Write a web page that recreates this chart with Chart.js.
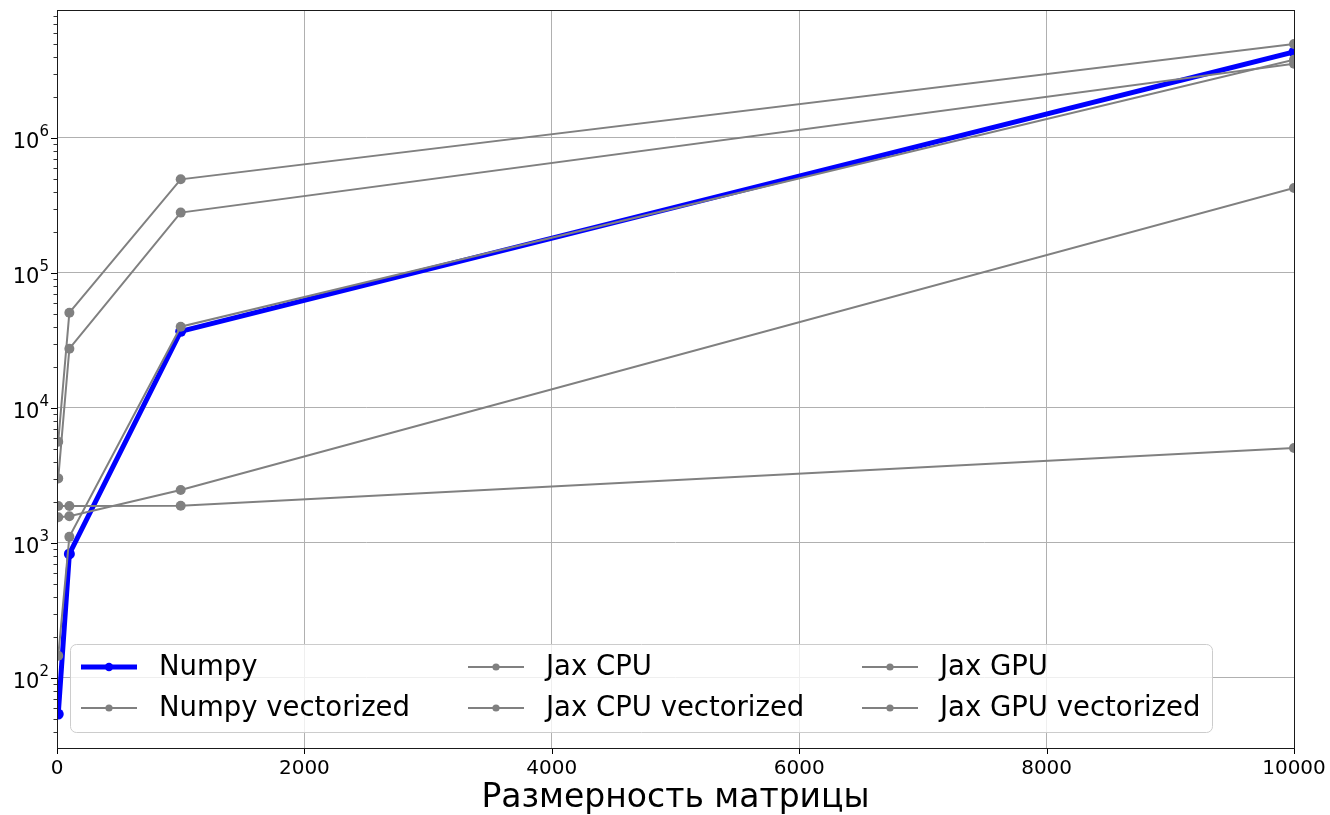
<!DOCTYPE html>
<html>
<head>
<meta charset="utf-8">
<script src="https://cdn.jsdelivr.net/npm/chart.js@4.4.1/dist/chart.umd.min.js"></script>
<style>
  html, body { margin: 0; padding: 0; background: #ffffff; }
  #wrap { width: 1330px; height: 815px; }
</style>
</head>
<body>
<div id="wrap"><canvas id="c" width="1330" height="815"></canvas></div>
<script>
// Matrix sizes and timings per implementation
const sizes = [10, 100, 1000, 10000];
const numpyTimes            = [54, 830, 37000, 4330000];
const numpyVectorizedTimes  = [146, 1110, 40000, 3800000];
const jaxCpuTimes           = [5630, 50800, 494000, 4970000];
const jaxCpuVectorizedTimes = [3010, 27500, 280000, 3550000];
const jaxGpuTimes           = [1550, 1580, 2470, 426000];
const jaxGpuVectorizedTimes = [1880, 1880, 1890, 5060];

const seriesNames = ['Numpy', 'Numpy vectorized', 'Jax CPU', 'Jax CPU vectorized', 'Jax GPU', 'Jax GPU vectorized'];
const seriesValues = [numpyTimes, numpyVectorizedTimes, jaxCpuTimes, jaxCpuVectorizedTimes, jaxGpuTimes, jaxGpuVectorizedTimes];

const xTicks = [0, 2000, 4000, 6000, 8000, 10000];
const xRange = [0, 10000];
const yRange = [30.3, 8.87e6];
const xTitle = 'Размерность матрицы';

const FONT = 'DejaVu Sans';
Chart.defaults.font.family = FONT;

const isPow10 = v => v > 0 && Math.abs(Math.log10(v) - Math.round(Math.log10(v))) < 1e-9;
const isMinorLog = v => {
  if (!(v > 0)) return false;
  const s = v / Math.pow(10, Math.floor(Math.log10(v) + 1e-12));
  return Math.abs(s - Math.round(s)) < 1e-6 && Math.round(s) > 1;
};

const styleFor = i => i === 0
  ? { color: '#0000ff', width: 5, radius: 5.5, legendRadius: 4.2 }
  : { color: '#808080', width: 2, radius: 5, legendRadius: 3.6 };

const datasets = seriesNames.map((name, i) => {
  const st = styleFor(i);
  return {
    label: name,
    data: sizes.map((x, k) => ({ x: x, y: seriesValues[i][k] })),
    borderColor: st.color,
    backgroundColor: st.color,
    borderWidth: st.width,
    pointRadius: st.radius,
    pointBackgroundColor: st.color,
    pointBorderWidth: 0,
    tension: 0,
    clip: 0,
    // first series sits underneath the later ones
    order: seriesNames.length - i
  };
});

const noScalePadding = s => { s.paddingTop = 0; s.paddingBottom = 0; s.paddingLeft = 0; s.paddingRight = 0; };

// Frame, outward tick marks, power-of-ten labels and a three-column legend
const axesDecor = {
  id: 'axesDecor',
  afterDraw(chart) {
    const { ctx, chartArea: a } = chart;
    const xs = chart.scales.x, ys = chart.scales.y;
    ctx.save();

    // tick marks
    ctx.strokeStyle = '#000000';
    ctx.lineWidth = 1;
    xs.ticks.forEach(t => {
      const px = Math.round(xs.getPixelForValue(t.value)) + 0.5;
      ctx.beginPath(); ctx.moveTo(px, a.bottom); ctx.lineTo(px, a.bottom + 6); ctx.stroke();
    });
    ys.ticks.forEach(t => {
      const major = isPow10(t.value);
      if (!major && !isMinorLog(t.value)) return;
      const py = Math.round(ys.getPixelForValue(t.value)) + 0.5;
      ctx.lineWidth = major ? 1 : 0.8;
      ctx.beginPath(); ctx.moveTo(a.left, py); ctx.lineTo(a.left - (major ? 6 : 3.5), py); ctx.stroke();
    });

    // y labels as 10 with a raised exponent
    ctx.fillStyle = '#000000';
    ctx.textBaseline = 'alphabetic';
    ys.ticks.forEach(t => {
      if (!isPow10(t.value)) return;
      const py = ys.getPixelForValue(t.value);
      const exp = String(Math.round(Math.log10(t.value)));
      ctx.font = '15px "' + FONT + '"';
      const ew = ctx.measureText(exp).width;
      const right = a.left - 8;
      ctx.textAlign = 'right';
      ctx.fillText(exp, right, py - 2);
      ctx.font = '21px "' + FONT + '"';
      ctx.fillText('10', right - ew, py + 10);
    });

    // spines
    ctx.lineWidth = 1;
    ctx.strokeStyle = '#1a1a1a';
    ctx.strokeRect(Math.round(a.left) + 0.5, Math.round(a.top) + 0.5,
                   Math.round(a.right - a.left), Math.round(a.bottom - a.top));

    // legend
    const box = { x: 70.5, y: 644.5, w: 1142, h: 88 };
    ctx.beginPath();
    ctx.roundRect(box.x, box.y, box.w, box.h, 6);
    ctx.fillStyle = 'rgba(255,255,255,0.8)';
    ctx.fill();
    ctx.strokeStyle = '#cccccc';
    ctx.lineWidth = 1;
    ctx.stroke();

    const colX = [81, 468, 862];
    const rowY = [667, 708];
    const handleLen = 56;
    const textGap = 22;
    ctx.font = '27.5px "' + FONT + '"';
    ctx.textBaseline = 'middle';
    ctx.textAlign = 'left';
    chart.data.datasets.forEach((ds, i) => {
      const c = Math.floor(i / 2), r = i % 2;
      const st = styleFor(i);
      const hx = colX[c], hy = rowY[r];
      ctx.strokeStyle = st.color;
      ctx.lineWidth = st.width;
      ctx.beginPath(); ctx.moveTo(hx, hy); ctx.lineTo(hx + handleLen, hy); ctx.stroke();
      ctx.fillStyle = st.color;
      ctx.beginPath(); ctx.arc(hx + handleLen / 2, hy, st.legendRadius, 0, Math.PI * 2); ctx.fill();
      ctx.fillStyle = '#000000';
      ctx.fillText(ds.label, hx + handleLen + textGap, hy + 1);
    });
    ctx.restore();
  }
};

new Chart(document.getElementById('c'), {
  type: 'line',
  data: { datasets: datasets },
  options: {
    responsive: false,
    devicePixelRatio: 1,
    animation: false,
    events: [],
    layout: { padding: { left: 0, right: 36, top: 10, bottom: 0 } },
    plugins: { legend: { display: false }, tooltip: { enabled: false } },
    scales: {
      x: {
        type: 'linear',
        min: xRange[0],
        max: xRange[1],
        afterBuildTicks: s => { s.ticks = xTicks.map(v => ({ value: v })); },
        afterFit: s => { s.height = 67; noScalePadding(s); },
        grid: { color: '#b0b0b0', lineWidth: 1, drawTicks: false },
        border: { display: false },
        ticks: {
          color: '#000000',
          font: { size: 20 },
          padding: 9,
          maxRotation: 0,
          autoSkip: false,
          callback: v => String(v)
        },
        title: {
          display: true,
          text: xTitle,
          color: '#000000',
          font: { size: 33, lineHeight: 1 },
          padding: { top: 0, bottom: 0 }
        }
      },
      y: {
        type: 'logarithmic',
        min: yRange[0],
        max: yRange[1],
        afterFit: s => { s.width = 57; noScalePadding(s); },
        grid: {
          color: c => (c.tick && isPow10(c.tick.value)) ? '#b0b0b0' : 'rgba(0,0,0,0)',
          lineWidth: 1,
          drawTicks: false
        },
        border: { display: false },
        ticks: {
          display: true,
          color: 'rgba(0,0,0,0)',
          font: { size: 20 },
          padding: 8,
          autoSkip: false,
          callback: () => ''
        }
      }
    }
  },
  plugins: [axesDecor]
});
</script>
</body>
</html>
